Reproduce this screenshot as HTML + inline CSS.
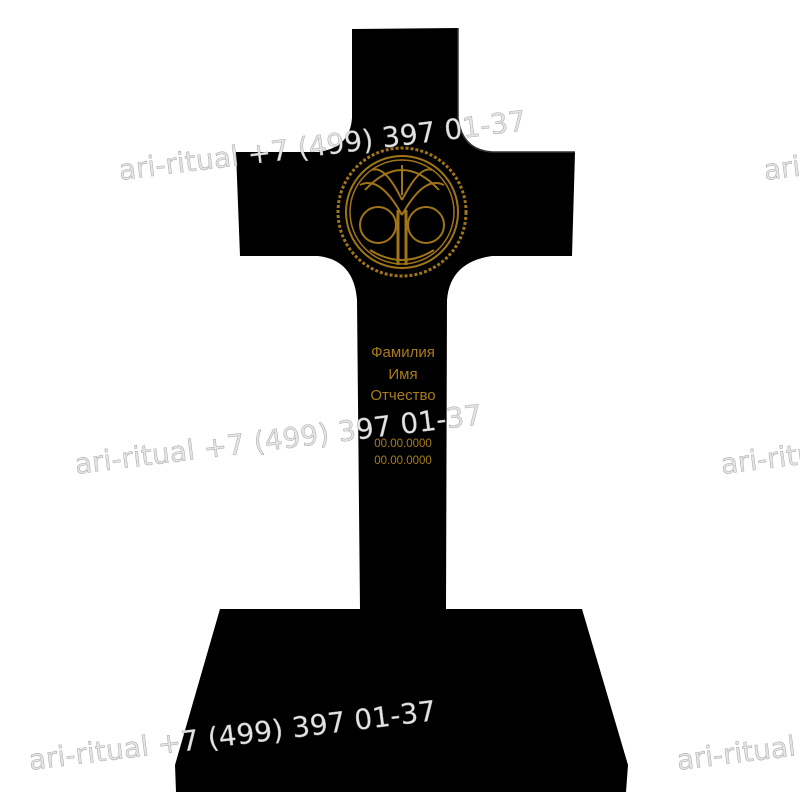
<!DOCTYPE html>
<html><head><meta charset="utf-8"><style>
body{margin:0;background:#fff;}
svg{display:block}
</style></head><body>
<svg width="800" height="800" viewBox="0 0 800 800" xmlns="http://www.w3.org/2000/svg">
<rect width="800" height="800" fill="#fff"/>
<polygon points="220,609 582,609 628,765 626,792 176,792 175,765" fill="#000"/>
<path d="M352,29 L458,28 L458,118 Q462,150 492,152 L575,152 L572,256 L492,256 Q450,262 447,300 L446,609 L360,609 L357,300 Q354,260 318,256 L240,256 L236,152 L318,152 Q350,148 352,118 Z" fill="#000"/>
<path d="M458,28 L458,118 Q462,150 492,152 L575,152" fill="none" stroke="#333" stroke-width="1.5"/>
<g fill="none" stroke="#a07518">
<circle cx="402" cy="212" r="64" stroke-width="3" stroke-dasharray="3 2"/>
<circle cx="402" cy="212" r="56" stroke-width="2"/>
<circle cx="402" cy="212" r="52" stroke-width="1.5"/>
<path d="M398,265 L398,210 M406,265 L406,210" stroke-width="3"/>
<path d="M402,215 Q380,175 360,185 M402,215 Q424,175 444,185 M402,200 Q385,165 372,170 M402,200 Q420,165 432,170 M402,195 L402,165" stroke-width="2"/>
<circle cx="378" cy="225" r="18" stroke-width="2"/>
<circle cx="426" cy="225" r="18" stroke-width="2"/>
<path d="M365,190 Q402,150 439,190 M370,250 Q402,270 434,250" stroke-width="2"/>
</g>
<g font-family="Liberation Sans, sans-serif" fill="#a97c1c" text-anchor="middle">
<text x="403" y="357" font-size="15">Фамилия</text>
<text x="403" y="379" font-size="15">Имя</text>
<text x="403" y="400" font-size="15">Отчество</text>
<text x="403" y="447" font-size="11.5">00.00.0000</text>
<text x="403" y="464" font-size="11.5">00.00.0000</text>
</g>
<g font-family="DejaVu Sans, sans-serif" font-size="28" fill="#e4e4e4" stroke="#999" stroke-width="0.4">
<text transform="translate(120,180) rotate(-7)" textLength="410">ari-ritual +7 (499) 397 01-37</text>
<text transform="translate(76,474) rotate(-7)" textLength="410">ari-ritual +7 (499) 397 01-37</text>
<text transform="translate(30,770) rotate(-7)" textLength="410">ari-ritual +7 (499) 397 01-37</text>
<text transform="translate(765,180) rotate(-7)">ari-ritual</text>
<text transform="translate(722,474) rotate(-7)">ari-ritual</text>
<text transform="translate(678,770) rotate(-7)">ari-ritual</text>
</g>
</svg>
</body></html>
